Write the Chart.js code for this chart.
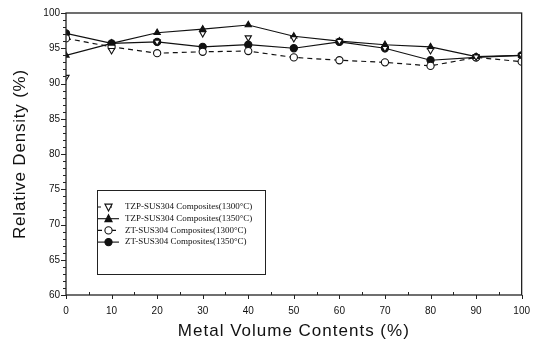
<!DOCTYPE html>
<html>
<head>
<meta charset="utf-8">
<script src="https://cdn.jsdelivr.net/npm/chart.js@4.4.1/dist/chart.umd.min.js"></script>
<style>
  html, body { margin: 0; padding: 0; background: #fff; }
  canvas { display: block; }
</style>
</head>
<body>
<canvas id="densityChart" width="540" height="351"></canvas>
<script>
// metal volume content (%) on the x axis
const metalContents = [0, 10, 20, 30, 40, 50, 60, 70, 80, 90, 100];

// relative density (%)
const tzp1300 = [90.9, 94.7, 95.9, 97.1, 96.5, 96.4, 96.0, 95.0, 94.7, 93.8, 94.0];
const tzp1350 = [94.0, 95.7, 97.2, 97.7, 98.3, 96.7, 96.0, 95.5, 95.2, 93.8, 94.0];
const zt1300 = [96.4, 95.2, 94.3, 94.5, 94.6, 93.7, 93.3, 93.0, 92.5, 93.7, 93.1];
const zt1350 = [97.1, 95.7, 95.9, 95.2, 95.5, 95.0, 95.9, 95.0, 93.3, 93.7, 94.0];

const seriesNames = [
  "TZP-SUS304 Composites(1300°C)",
  "TZP-SUS304 Composites(1350°C)",
  "ZT-SUS304 Composites(1300°C)",
  "ZT-SUS304 Composites(1350°C)",
];

const xTitle = "Metal Volume Contents (%)";
const yTitle = "Relative Density (%)";

const yTicks = [60, 65, 70, 75, 80, 85, 90, 95, 100];
const xTicks = [0, 10, 20, 30, 40, 50, 60, 70, 80, 90, 100];

function toPoints(values) {
  return metalContents.map((x, i) => ({ x: x, y: values[i] }));
}

// draw one marker for the legend
function drawMarker(ctx, ds, x, y) {
  const r = 3.6;
  ctx.save();
  ctx.lineWidth = 1.1;
  ctx.strokeStyle = "#111";
  ctx.fillStyle = ds.pointBackgroundColor;
  ctx.beginPath();
  if (ds.pointStyle === "circle") {
    ctx.arc(x, y, r, 0, Math.PI * 2);
  } else {
    const dir = ds.pointRotation === 180 ? -1 : 1;
    ctx.moveTo(x, y - dir * r * 1.1);
    ctx.lineTo(x - r, y + dir * r * 0.8);
    ctx.lineTo(x + r, y + dir * r * 0.8);
    ctx.closePath();
  }
  ctx.fill();
  ctx.stroke();
  ctx.restore();
}

const framePlugin = {
  id: "frame",
  afterDraw(chart) {
    const ctx = chart.ctx;
    const a = chart.chartArea;
    const xs = chart.scales.x;
    const ys = chart.scales.y;
    ctx.save();
    ctx.strokeStyle = "#222";
    ctx.lineWidth = 1.3;
    ctx.strokeRect(a.left, a.top, a.right - a.left, a.bottom - a.top);

    // y ticks, major every 5 and minor every 1
    ctx.lineWidth = 1;
    for (let v = 60; v <= 100; v++) {
      const py = Math.round(ys.getPixelForValue(v)) + 0.5;
      const len = v % 5 === 0 ? 5 : 3;
      ctx.beginPath();
      ctx.moveTo(a.left - len, py);
      ctx.lineTo(a.left, py);
      ctx.stroke();
    }
    // x ticks, major every 10 and minor every 5
    for (let v = 0; v <= 100; v += 5) {
      const px = Math.round(xs.getPixelForValue(v)) + 0.5;
      ctx.beginPath();
      if (v % 10 === 0) {
        ctx.moveTo(px, a.bottom);
        ctx.lineTo(px, a.bottom + 4);
      } else {
        ctx.moveTo(px, a.bottom);
        ctx.lineTo(px, a.bottom - 3);
      }
      ctx.stroke();
    }

    // axis titles, a little letter-spaced like the original
    ctx.fillStyle = "#111";
    ctx.font = "17px 'Liberation Sans'";
    ctx.textAlign = "center";
    ctx.textBaseline = "middle";
    ctx.letterSpacing = "1px";
    ctx.fillText(xTitle, (a.left + a.right) / 2, 331);
    ctx.save();
    ctx.translate(20, (a.top + a.bottom) / 2);
    ctx.rotate(-Math.PI / 2);
    ctx.letterSpacing = "0.8px";
    ctx.fillText(yTitle, 0, 0);
    ctx.restore();
    ctx.letterSpacing = "0px";

    // legend box
    ctx.lineWidth = 1;
    ctx.strokeRect(97.5, 190.5, 168, 84);
    ctx.font = "9px 'Liberation Serif'";
    ctx.textAlign = "left";
    chart.data.datasets.forEach((ds, i) => {
      const y = 207 + i * 11.7;
      ctx.save();
      ctx.strokeStyle = "#111";
      ctx.lineWidth = 1.1;
      ctx.setLineDash(ds.legendDash || []);
      ctx.beginPath();
      ctx.moveTo(98, y);
      ctx.lineTo(119, y);
      ctx.stroke();
      ctx.restore();
      drawMarker(ctx, ds, 108.5, y);
      ctx.fillText(seriesNames[i], 125, y, 135);
    });
    ctx.restore();
  },
};

const ctx = document.getElementById("densityChart");
new Chart(ctx, {
  type: "line",
  data: {
    datasets: [
      {
        label: seriesNames[0],
        data: toPoints(tzp1300),
        showLine: false,
        pointStyle: "triangle",
        pointRotation: 180,
        pointBackgroundColor: "#fff",
        legendDash: [3, 8],
      },
      {
        label: seriesNames[1],
        data: toPoints(tzp1350),
        pointStyle: "triangle",
        pointRotation: 0,
        pointBackgroundColor: "#111",
      },
      {
        label: seriesNames[2],
        data: toPoints(zt1300),
        pointStyle: "circle",
        pointBackgroundColor: "#fff",
        borderDash: [5, 4],
        legendDash: [4, 3],
      },
      {
        label: seriesNames[3],
        data: toPoints(zt1350),
        pointStyle: "circle",
        pointBackgroundColor: "#111",
      },
    ],
  },
  options: {
    responsive: false,
    animation: false,
    layout: { padding: { top: 13, right: 15, bottom: 0, left: 0 } },
    elements: {
      line: { borderColor: "#111", borderWidth: 1.2, tension: 0, fill: false },
      point: { radius: 3.6, borderColor: "#111", borderWidth: 1.1 },
    },
    plugins: {
      legend: { display: false },
      tooltip: { enabled: false },
    },
    scales: {
      x: {
        type: "linear",
        min: 0,
        max: 100,
        afterFit: (scale) => { scale.height = 56; },
        afterBuildTicks: (scale) => { scale.ticks = xTicks.map((v) => ({ value: v })); },
        grid: { display: false, drawTicks: false },
        border: { display: false },
        ticks: {
          padding: 10,
          color: "#111",
          font: { family: "'Liberation Sans'", size: 10 },
          maxRotation: 0,
        },
      },
      y: {
        min: 60,
        max: 100,
        afterFit: (scale) => { scale.width = 66; },
        afterBuildTicks: (scale) => { scale.ticks = yTicks.map((v) => ({ value: v })); },
        grid: { display: false, drawTicks: false },
        border: { display: false },
        ticks: {
          padding: 6,
          color: "#111",
          font: { family: "'Liberation Sans'", size: 10 },
        },
      },
    },
  },
  plugins: [framePlugin],
});
</script>
</body>
</html>
